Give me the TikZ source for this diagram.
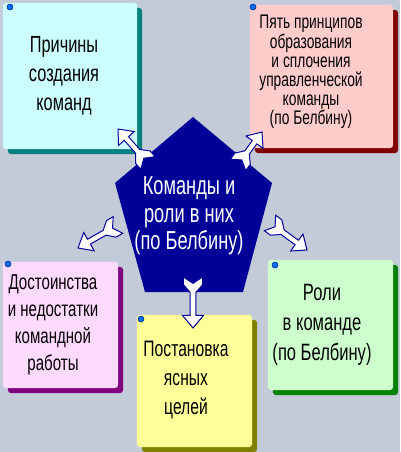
\documentclass[tikz,border=0pt]{standalone}
\usepackage{fontspec}
\setmainfont{Liberation Sans}[FakeStretch=0.7]
\usetikzlibrary{calc,shadows}
\definecolor{bggray}{RGB}{195,203,216}
\definecolor{navy}{RGB}{0,0,153}
\definecolor{cyanbox}{RGB}{204,255,255}
\definecolor{tealrim}{RGB}{0,128,128}
\definecolor{pinkbox}{RGB}{255,204,204}
\definecolor{maroonrim}{RGB}{128,0,0}
\definecolor{lilacbox}{RGB}{255,218,255}
\definecolor{purplerim}{RGB}{128,0,128}
\definecolor{yellowbox}{RGB}{255,255,153}
\definecolor{oliverim}{RGB}{128,128,0}
\definecolor{greenbox}{RGB}{204,255,204}
\definecolor{greenrim}{RGB}{0,128,0}
\definecolor{dotblue}{RGB}{0,110,255}
\definecolor{dotrim}{RGB}{0,40,150}

\begin{document}
\begin{tikzpicture}[x=0.025cm,y=-0.025cm,
card/.style 2 args={rectangle,rounded corners=2pt,inner sep=0pt,fill=#1,
  drop shadow={shadow xshift=0.125cm,shadow yshift=-0.125cm,opacity=1,fill=#2}},
lbl/.style={align=center,inner sep=0pt},
dot/.style={circle,draw=dotrim,fill=dotblue,inner sep=0pt,minimum size=0.15cm},
fletch/.style={draw=navy,fill=white,line width=0.7pt,line join=miter,
  to path={let \p1=($(\tikztotarget)-(\tikztostart)$),\n1={atan2(\y1,\x1)},\n2={veclen(\x1,\y1)} in
  [shift={(\tikztostart)},rotate=\n1]
  (0pt,6.8pt) -- (5.5pt,6.8pt) -- (11pt,2pt) -- (\n2-9pt,2pt) -- (\n2-9pt,7.5pt) -- (\n2,0pt)
  -- (\n2-9pt,-7.5pt) -- (\n2-9pt,-2pt) -- (11pt,-2pt) -- (5.5pt,-6.8pt) -- (0pt,-6.8pt) -- (4.5pt,0pt) -- cycle}}]
\useasboundingbox (0,0) rectangle (400,452);
\fill[bggray] (0,0) rectangle (400,452);

\node[card={cyanbox}{tealrim},minimum width=3.35cm,minimum height=3.65cm] (why) at (70,76) {};
\node[card={pinkbox}{maroonrim},minimum width=3.575cm,minimum height=3.575cm] (five) at (321.5,76.5) {};
\node[card={lilacbox}{purplerim},minimum width=2.875cm,minimum height=3.15cm] (pros) at (60.5,325) {};
\node[card={yellowbox}{oliverim},minimum width=2.875cm,minimum height=3.3cm] (goals) at (194.5,381) {};
\node[card={greenbox}{greenrim},minimum width=3.125cm,minimum height=3.25cm] (roles) at (330.5,325) {};

\node[dot] (d1) at (10,7) {};
\node[dot] (d2) at (253,7) {};
\node[dot] (d3) at (8,264) {};
\node[dot] (d4) at (141,319) {};
\node[dot] (d5) at (275,265) {};

\node[lbl,font=\fontsize{16.6}{20.6}\selectfont] (whytext) at (64,76) {Причины\\создания\\команд};
\node[lbl,font=\fontsize{14}{13.6}\selectfont] (fivetext) at (311,72) {Пять принципов\\образования\\и сплочения\\управленческой\\команды\\(по Белбину)};
\node[lbl,font=\fontsize{15.3}{19.2}\selectfont] (prostext) at (53,325) {Достоинства\\и недостатки\\командной\\работы};
\node[lbl,font=\fontsize{15.9}{20.6}\selectfont] (goalstext) at (186,380) {Постановка\\ясных\\целей};
\node[lbl,font=\fontsize{16.8}{21.3}\selectfont] (rolestext) at (322,325) {Роли\\в команде\\(по Белбину)};

\fill[navy] (193,117) -- (272,183) -- (243,292) -- (145,292) -- (115,183) -- cycle;
\node[lbl,text=white,font=\fontsize{18.5}{19.5}\selectfont] (core) at (189,216) {Команды и\\роли в них\\(по Белбину)};

\coordinate (a1) at (148,163); \coordinate (a2) at (118,129);
\coordinate (b1) at (238,165); \coordinate (b2) at (262,132);
\coordinate (c1) at (118,225); \coordinate (c2) at (78,248);
\coordinate (e1) at (270,223); \coordinate (e2) at (307,250);
\coordinate (f1) at (193,277); \coordinate (f2) at (193,328);
\draw[fletch] (a1) to (a2);
\draw[fletch] (b1) to (b2);
\draw[fletch] (c1) to (c2);
\draw[fletch] (e1) to (e2);
\draw[fletch] (f1) to (f2);
\end{tikzpicture}
\end{document}
